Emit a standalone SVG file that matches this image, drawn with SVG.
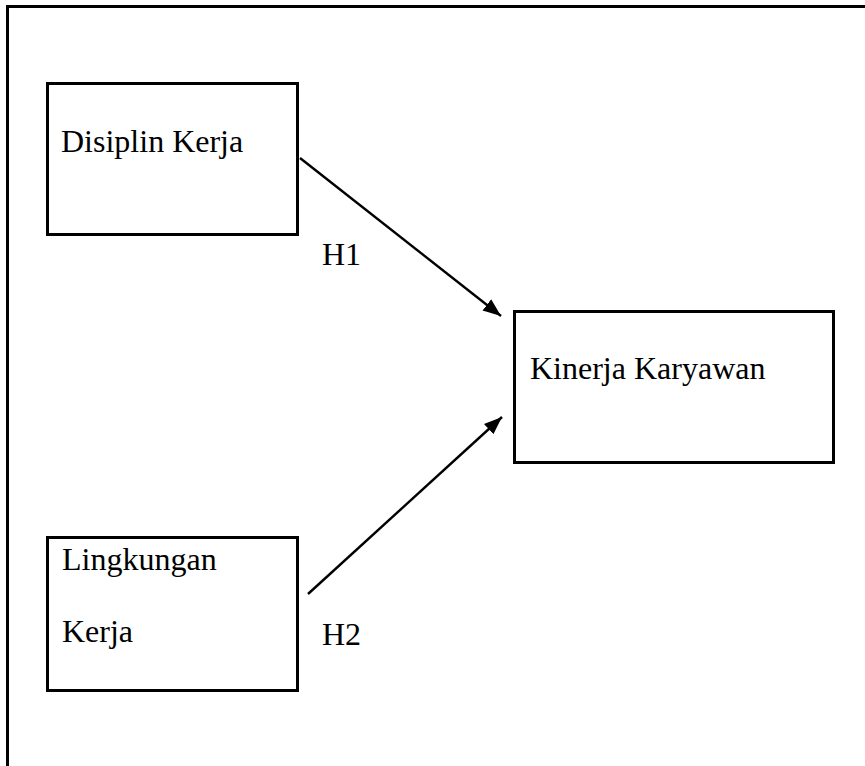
<svg xmlns="http://www.w3.org/2000/svg" width="865" height="766" viewBox="0 0 865 766">
<style>
.box{fill:#fff;stroke:#000;stroke-width:3}
.frame{fill:none;stroke:#000;stroke-width:3}
.lbl{font-family:"Liberation Serif","Times New Roman",serif;font-size:32px;fill:#000}
.conn{stroke:#000;stroke-width:2.4;fill:none;marker-end:url(#ah)}
</style>
<defs>
<marker id="ah" markerUnits="userSpaceOnUse" markerWidth="20" markerHeight="16" refX="18" refY="7" orient="auto" viewBox="0 0 20 14">
<path d="M0,0 L18,7 L0,14 Z" fill="#000"/>
</marker>
</defs>
<rect width="865" height="766" fill="#fff"/>
<path class="frame" d="M7.5,766 V6.5 H865"/>
<g id="disiplin">
<rect class="box" x="47.5" y="83.5" width="250" height="151"/>
<text class="lbl" x="61" y="152">Disiplin Kerja</text>
</g>
<g id="lingkungan">
<rect class="box" x="47.5" y="537.5" width="250" height="153"/>
<text class="lbl" x="62" y="570">Lingkungan</text>
<text class="lbl" x="62" y="642">Kerja</text>
</g>
<g id="kinerja">
<rect class="box" x="514.5" y="311.5" width="319" height="151"/>
<text class="lbl" x="530" y="379">Kinerja Karyawan</text>
</g>
<g id="connectors">
<line class="conn" x1="300" y1="158" x2="501" y2="316"/>
<line class="conn" x1="308" y1="594" x2="502" y2="417"/>
<text class="lbl" x="322" y="265">H1</text>
<text class="lbl" x="322" y="645">H2</text>
</g>
</svg>
